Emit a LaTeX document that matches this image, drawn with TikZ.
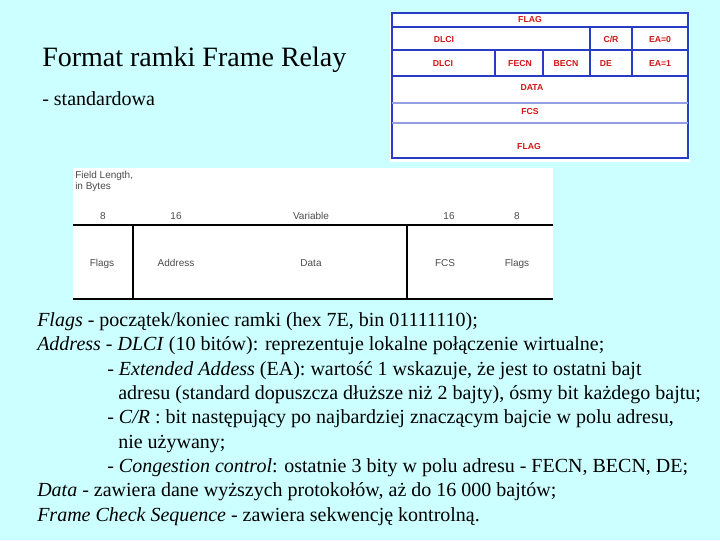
\documentclass[tikz,border=0pt]{standalone}
\usepackage{fontspec}
\setmainfont{Liberation Serif}
\newfontfamily\arialf{Liberation Sans}
\definecolor{bgc}{RGB}{204,255,255}
\definecolor{tblue}{RGB}{40,60,200}
\definecolor{tred}{RGB}{210,20,20}
\begin{document}
\begin{tikzpicture}[x=0.75pt,y=-0.75pt,
  rt/.style={text=tred,font=\arialf\fontsize{6.5}{7}\selectfont\bfseries,inner sep=0pt},
  gt/.style={text=black!70,font=\arialf\fontsize{7.5}{8.5}\selectfont,inner sep=0pt},
  tx/.style={anchor=base west,inner sep=0pt,font=\fontsize{15}{17}\selectfont}]
\fill[bgc] (0,0) rectangle (720,540);
\useasboundingbox (0,0) rectangle (720,540);
% top right table
\fill[white] (390,12) rectangle (690,162);
\begin{scope}[tblue,line width=0.8pt]
\draw (392,13) rectangle (688,158);
\draw (392,27)--(688,27) (392,50)--(688,50) (392,76)--(688,76);
\draw[tblue!50] (392,103)--(688,103) (392,123)--(688,123);
\draw (590,27)--(590,76) (632,27)--(632,76);
\draw (495,50)--(495,76) (543,50)--(543,76);
\end{scope}
\node[rt] (f1) at (530,20) {FLAG};
\node[rt] (d1) at (444,40) {DLCI};
\node[rt] (cr) at (611,39) {C/R};
\node[rt] (ea0) at (660,40) {EA=0};
\node[rt] (d2) at (443,64) {DLCI};
\node[rt] (fe) at (520,64) {FECN};
\node[rt] (be) at (566,64) {BECN};
\node[rt] (de) at (606,64) {DE};
\node[rt] (ea1) at (660,64) {EA=1};
\node[rt] (da) at (532,88) {DATA};
\node[rt] (fc) at (530,112) {FCS};
\node[rt] (f2) at (529,147) {FLAG};
% title
\node[anchor=base west,inner sep=0pt,font=\fontsize{21}{24}\selectfont] (title) at (42,66) {Format ramki Frame Relay};
\node[tx] (std) at (42,105) {- standardowa};
% bottom frame figure
\fill[white] (73,168) rectangle (553,300);
\draw[line width=0.8pt] (73,225)--(553,225) (73,299)--(553,299) (133,225)--(133,299) (407,225)--(407,299);
\node[gt,anchor=north west,align=left] (fl) at (75,171) {Field Length,\\in Bytes};
\node[gt] (n1) at (103,216) {8};
\node[gt] (n2) at (176,216) {16};
\node[gt] (n3) at (311,216) {Variable};
\node[gt] (n4) at (449,216) {16};
\node[gt] (n5) at (517,216) {8};
\node[gt] (l1) at (102,264) {Flags};
\node[gt] (l2) at (176,263) {Address};
\node[gt] (l3) at (311,263) {Data};
\node[gt] (l4) at (445,263) {FCS};
\node[gt] (l5) at (517,264) {Flags};
% text
\node[tx] (t1) at (37,326) {\textit{Flags} - początek/koniec ramki (hex 7E, bin 01111110);};
\node[tx] (t2) at (37,350) {\textit{Address} - \textit{DLCI} (10 bitów): reprezentuje lokalne połączenie wirtualne;};
\node[tx] (t3) at (107,375) {- \textit{Extended Addess} (EA): wartość 1 wskazuje, że jest to ostatni bajt};
\node[tx] (t4) at (118,399) {adresu (standard dopuszcza dłuższe niż 2 bajty), ósmy bit każdego bajtu;};
\node[tx] (t5) at (107,423) {- \textit{C/R} : bit następujący po najbardziej znaczącym bajcie w polu adresu,};
\node[tx] (t6) at (118,448) {nie używany;};
\node[tx] (t7) at (107,472) {- \textit{Congestion control}: ostatnie 3 bity w polu adresu - FECN, BECN, DE;};
\node[tx] (t8) at (37,496) {\textit{Data} - zawiera dane wyższych protokołów, aż do 16 000 bajtów;};
\node[tx] (t9) at (37,521) {\textit{Frame Check Sequence} - zawiera sekwencję kontrolną.};
\end{tikzpicture}
\end{document}
